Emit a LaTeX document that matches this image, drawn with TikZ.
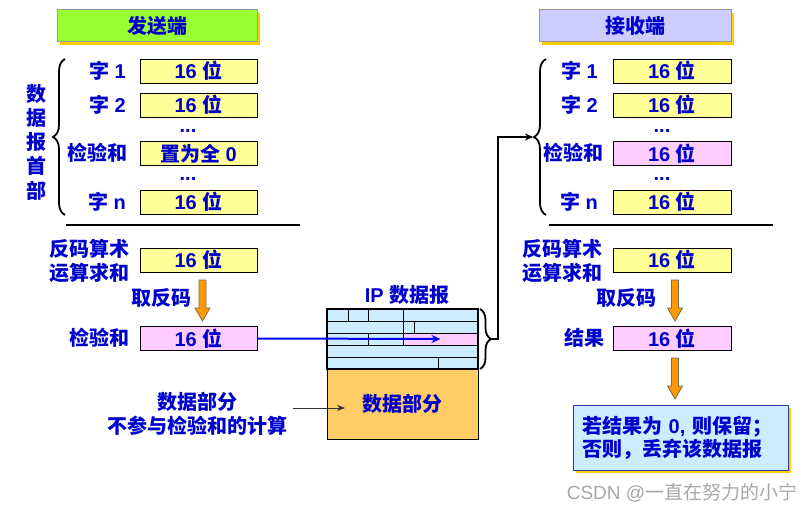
\documentclass[tikz,border=0pt]{standalone}
\usepackage{fontspec}
\setmainfont{Noto Sans CJK SC}
\newfontfamily\lat{Liberation Sans}
\usetikzlibrary{arrows.meta,decorations.pathreplacing,calc,shadows}

\definecolor{txtblue}{HTML}{0000CC}
\definecolor{cellyellow}{HTML}{FFFF99}
\definecolor{cellpink}{HTML}{FFCCFF}
\definecolor{hdrblue}{HTML}{CCECFF}
\definecolor{dataorange}{HTML}{FFCC66}
\definecolor{sendgreen}{HTML}{99FF33}
\definecolor{recvlilac}{HTML}{CCCCFF}
\definecolor{titleedge}{HTML}{999999}
\definecolor{shadowyellow}{HTML}{FFCC00}
\definecolor{arroworange}{HTML}{FF9900}
\definecolor{arrowedge}{HTML}{7F6A4A}
\definecolor{resultedge}{HTML}{333399}
\definecolor{wmgray}{HTML}{A8A8A8}

% a Latin-width word space
\newcommand{\lsp}{{\lat\ }}

\tikzset{
  wordcell/.style={draw=black, line width=0.8pt, fill=cellyellow,
    minimum width=117pt, minimum height=24pt, inner sep=0pt},
  sumcell/.style={wordcell, fill=cellpink},
  lbl/.style={anchor=east, inner sep=0pt},
  dotsnode/.style={inner sep=0pt, font=\fontsize{20}{24}\selectfont\bfseries\lat},
  titlebox/.style={draw=titleedge, line width=1pt, minimum height=32pt, inner sep=0pt,
    drop shadow={shadow xshift=3pt, shadow yshift=-3pt, fill=shadowyellow, opacity=1}},
  bracebig/.style={decorate, decoration={brace, amplitude=12pt}, line width=1.8pt},
  bracesmall/.style={decorate, decoration={brace, amplitude=11pt}, line width=1.8pt},
  pics/downarrow/.style={code={
    \draw[fill=arroworange, draw=arrowedge, line width=0.8pt]
      (-3.5,0) -- (3.5,0) -- (3.5,28) -- (7.5,28) -- (0,41) -- (-7.5,28) -- (-3.5,28) -- cycle;}},
}

\begin{document}
\begin{tikzpicture}[x=1pt, y=-1pt,
  font=\fontsize{20}{24}\selectfont\bfseries,
  every node/.style={text=txtblue}]
\fill[white] (0,0) rectangle (812,511);
\useasboundingbox (0,0) rectangle (812,511);

% ---------- sender ----------
\node[titlebox, fill=sendgreen, minimum width=200pt] (sendtitle) at (157,26) {发送端};

\node[wordcell] (s1) at (198.5,71) {{\lat 16}\lsp 位};
\node[wordcell] (s2) at (198.5,105) {{\lat 16}\lsp 位};
\node[wordcell] (s3) at (198.5,153.5) {置为全\lsp{\lat 0}};
\node[wordcell] (s4) at (198.5,202) {{\lat 16}\lsp 位};
\node[dotsnode] (sd1) at (188,131) {...};
\node[dotsnode] (sd2) at (188,179) {...};

\node[lbl] (sl1) at (126,71) {字\lsp{\lat 1}};
\node[lbl] (sl2) at (126,105) {字\lsp{\lat 2}};
\node[lbl] (sl3) at (128,153) {检验和};
\node[lbl] (sl4) at (126,202) {字\lsp{\lat n}};

\node[align=center, inner sep=0pt, font=\fontsize{20}{24.3}\selectfont\bfseries] (hdrlbl) at (36,142) {数\\据\\报\\首\\部};
\draw[bracebig] (65,215) -- (65,59);
\draw[line width=2pt] (66,225) -- (300,225);

\node[lbl, align=right] (ssumlbl) at (130,261) {反码算术\\运算求和};
\node[wordcell] (ssum) at (198.5,260) {{\lat 16}\lsp 位};
\pic at (202.5,280) {downarrow};
\node[lbl] (sneg) at (192,298) {取反码};
\node[lbl] (scklbl) at (130,338) {检验和};
\node[sumcell] (sck) at (198.5,338.5) {{\lat 16}\lsp 位};

\node[align=center, inner sep=0pt] (note) at (197,414) {数据部分\\不参与检验和的计算};

% ---------- IP datagram ----------
\node[inner sep=0pt] (iplbl) at (407,295) {{\lat IP}\lsp 数据报};
\node[draw=black, line width=0.8pt, fill=dataorange, minimum width=151pt, minimum height=70pt, inner sep=0pt]
  (ipdata) at (402.5,404) {数据部分};
\node[fill=hdrblue, minimum width=151pt, minimum height=60pt, inner sep=0pt] (iphdr) at (402.5,339) {};
\fill[cellpink] (403,333) rectangle (478,345);
\coordinate (ippink) at (440.5,339);
\draw[line width=0.8pt]
  (327,321) -- (478,321) (327,333) -- (478,333) (327,345) -- (478,345) (327,357) -- (478,357)
  (348,309) -- (348,321) (368,309) -- (368,321) (403,309) -- (403,321)
  (403,321) -- (403,333) (414,321) -- (414,333)
  (368,333) -- (368,345) (403,333) -- (403,345)
  (438,357) -- (438,369);
\draw[line width=2pt] (iphdr.north west) rectangle (iphdr.south east);
\draw[bracesmall] (480,309) -- (480,369);
\coordinate (ipbrace) at (491,339);

% checksum goes into the header field
\draw[blue, line width=2pt, -{Stealth[length=9pt,width=8pt]}] (sck.east) -- (ippink);

% data part pointer
\coordinate (notetip) at (345,408);
\draw[black!80, line width=1pt, -{Stealth[length=8pt,width=6pt]}]
  ($(note.east |- notetip)+(6,0)$) -- (notetip);

% ---------- receiver ----------
\node[titlebox, fill=recvlilac, minimum width=192pt] (recvtitle) at (635,26) {接收端};

\node[wordcell, minimum width=118pt] (r1) at (672,71) {{\lat 16}\lsp 位};
\node[wordcell, minimum width=118pt] (r2) at (672,105) {{\lat 16}\lsp 位};
\node[sumcell, minimum width=118pt] (r3) at (672,153.5) {{\lat 16}\lsp 位};
\node[wordcell, minimum width=118pt] (r4) at (672,202) {{\lat 16}\lsp 位};
\node[dotsnode] (rd1) at (662,131) {...};
\node[dotsnode] (rd2) at (662,179) {...};

\node[lbl] (rl1) at (598,71) {字\lsp{\lat 1}};
\node[lbl] (rl2) at (598,105) {字\lsp{\lat 2}};
\node[lbl] (rl3) at (604,153) {检验和};
\node[lbl] (rl4) at (598,202) {字\lsp{\lat n}};

\draw[bracebig] (546,215) -- (546,59);
\coordinate (rxbrace) at (533,137);
\draw[line width=2pt] (549,225) -- (773,225);

\draw[line width=2pt, -{Stealth[length=8pt,width=7pt]}] (ipbrace) -- ++(7,0) |- (rxbrace);

\node[lbl, align=right] (rsumlbl) at (603,261) {反码算术\\运算求和};
\node[wordcell, minimum width=118pt] (rsum) at (672,260) {{\lat 16}\lsp 位};
\pic at (675,280) {downarrow};
\node[lbl] (rneg) at (657,298) {取反码};
\node[lbl] (rreslbl) at (605,338) {结果};
\node[sumcell, minimum width=118pt] (rres) at (672,338.5) {{\lat 16}\lsp 位};
\pic at (675,358) {downarrow};

\node[draw=resultedge, line width=1pt, fill=hdrblue, text width=197pt, inner xsep=9pt,
  minimum height=65pt, align=left, font=\fontsize{20}{23}\selectfont\bfseries,
  drop shadow={shadow xshift=3pt, shadow yshift=-3pt, fill=shadowyellow, opacity=1}]
  (verdict) at (680.5,437.5) {若结果为\lsp{\lat 0,}\lsp 则保留；\\否则，丢弃该数据报};

\node[text=wmgray, inner sep=0pt, font=\fontsize{19}{22}\selectfont] (wm) at (682,493) {{\lat CSDN @}一直在努力的小宁};
\end{tikzpicture}
\end{document}
